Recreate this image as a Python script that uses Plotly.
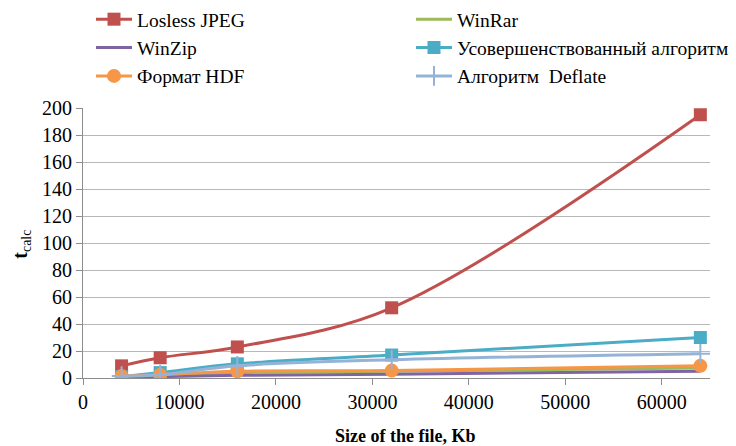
import plotly.graph_objects as go

# File sizes, Kb
sizes = [4000, 8000, 16000, 32000, 64000]

# Calculation time for each method
losless_jpeg = [9, 15, 23, 52, 195]
winrar = [1, 2, 4, 5, 7.5]
winzip = [0.5, 1, 2, 2.8, 5]
improved = [1, 4, 10.5, 17, 30]
hdf = [1.5, 2.5, 5, 5.5, 9]
deflate = [1.5, 2.5, 9, 13.5, 18]

x_ticks = [0, 10000, 20000, 30000, 40000, 50000, 60000]
y_ticks = list(range(0, 201, 20))

FONT = "Liberation Serif"
W, H = 736, 446

# name, values, line colour, marker, legend column
series = [
    ("Losless JPEG", losless_jpeg, "#C0504D", dict(symbol="square", size=13, color="#C0504D"), "legend"),
    ("WinRar", winrar, "#9BBB59", None, "legend2"),
    ("WinZip", winzip, "#8064A2", None, "legend"),
    ("Усовершенствованный алгоритм", improved, "#4BACC6",
     dict(symbol="square", size=13, color="#4BACC6"), "legend2"),
    ("Формат HDF", hdf, "#F79646", dict(symbol="circle", size=14, color="#F79646"), "legend"),
    ("Алгоритм  Deflate", deflate, "#95B3D7",
     dict(symbol="cross-thin", size=14, color="#95B3D7", line=dict(color="#95B3D7", width=2)), "legend2"),
]

fig = go.Figure()
for name, values, color, marker, leg in series:
    fig.add_trace(go.Scatter(
        x=sizes, y=values, name=name,
        mode="lines+markers" if marker else "lines",
        line=dict(color=color, width=3, shape="spline", smoothing=1),
        marker=marker,
        legend=leg,
    ))

axis_common = dict(
    showline=True, linecolor="#8c8c8c", linewidth=1,
    ticks="outside", ticklen=6, tickcolor="#8c8c8c",
    tickfont=dict(family=FONT, size=20, color="#000000"),
    zeroline=False,
)

fig.update_xaxes(range=[0, 65000], tickvals=x_ticks, ticktext=[str(v) for v in x_ticks],
                 showgrid=False, **axis_common)
fig.update_yaxes(range=[0, 200], tickvals=y_ticks, ticktext=[str(v) for v in y_ticks],
                 showgrid=True, gridcolor="#b8b8b8", gridwidth=1, **axis_common)

legend_common = dict(
    orientation="v", xref="container", yref="container",
    xanchor="left", yanchor="top", y=1.0,
    font=dict(family=FONT, size=19.5, color="#000000"),
    itemwidth=36, bgcolor="rgba(0,0,0,0)", tracegroupgap=0,
)

fig.update_layout(
    width=W, height=H,
    margin=dict(l=83, r=26, t=108, b=68, autoexpand=False),
    paper_bgcolor="white", plot_bgcolor="white",
    font=dict(family=FONT, size=20, color="#000000"),
    showlegend=True,
    legend=dict(x=91 / W, **legend_common),
    legend2=dict(x=411 / W, **legend_common),
    annotations=[
        dict(text="<b>Size of the file, Kb</b>", xref="paper", yref="paper",
             x=(405 - 83) / 627, y=-0.215, xanchor="center", yanchor="middle",
             showarrow=False, font=dict(family=FONT, size=18, color="#000000")),
        dict(text="<b>t</b><sub>calc</sub>", xref="paper", yref="paper",
             x=(22 - 83) / 627, y=(378.5 - 245) / 270.5, xanchor="center", yanchor="middle",
             textangle=-90, showarrow=False, font=dict(family=FONT, size=20, color="#000000")),
    ],
)

fig.write_html("out.html")
